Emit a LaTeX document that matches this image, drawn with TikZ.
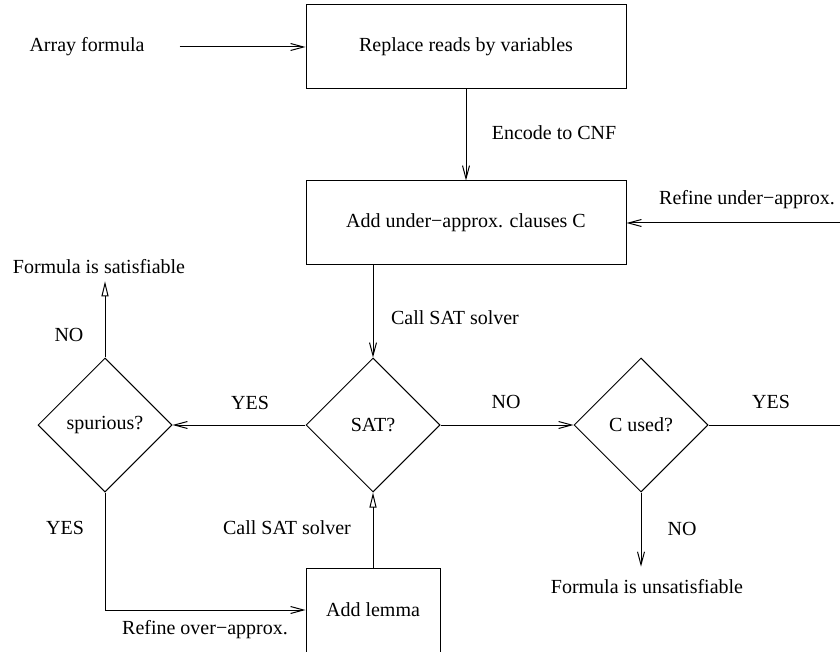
\documentclass[tikz,border=0pt]{standalone}
\usepackage{fontspec}
\setmainfont{Liberation Serif}
\usetikzlibrary{arrows.meta,shapes.geometric}

\begin{document}
\begin{tikzpicture}[x=0.5pt,y=-0.5pt,node distance=134pt,line width=0.5pt,
    font=\fontsize{10}{12}\selectfont,
    barb/.style={-{Straight Barb[length=6.5pt,width=3.5pt]}},
    tri/.style={-{Triangle[open,length=7.5pt,width=3.5pt]}},
    block/.style={draw,rectangle,minimum width=160pt,minimum height=42pt},
    test/.style={draw,diamond,minimum width=67pt,minimum height=67pt,inner sep=0pt}]
    \useasboundingbox (0,0) rectangle (840,652);

    \node (arr) at (87,47) {Array formula};
    \node[block] (rep) at (466,47) {Replace reads by variables};
    \node[block] (under) at (466,223) {Add under−approx. clauses C};
    \node[test] (sat) at (373,425) {SAT?};
    \node[test] (spur) [left of=sat] {spurious?};
    \node[test] (cused) [right of=sat] {C used?};
    \node[block,minimum width=67pt] (lemma) at (373,610) {Add lemma};
    \node (fsat) at (99,267) {Formula is satisfiable};
    \node (funsat) at (647,587) {Formula is unsatisfiable};
    \coordinate (rin) at (840,223);
    \coordinate (yout) at (840,425);

    \node (enc) at (554,133) {Encode to CNF};
    \node (refu) at (747,200) {Refine under−approx.};
    \node (call1) at (455,318) {Call SAT solver};
    \node (yes1) at (250,403) {YES};
    \node (no1) at (506,402) {NO};
    \node (yes2) at (771,402) {YES};
    \node (no2) at (69,335) {NO};
    \node (yes3) at (65,528) {YES};
    \node (call2) at (287,528) {Call SAT solver};
    \node (no3) at (682,529) {NO};
    \node (refo) at (205,630) {Refine over−approx.};

    \draw[barb,shorten <=14pt] (arr) -- (rep);
    \draw[barb] (rep) -- (under);
    \draw[barb] (rin) -- (under);
    \draw[barb] (sat.north |- under.south) -- (sat);
    \draw[barb] (sat) -- (spur);
    \draw[barb] (sat) -- (cused);
    \draw (cused) -- (yout);
    \draw[barb,shorten >=3pt] (cused) -- (cused |- funsat.north);
    \draw[tri] (spur) -- (spur |- fsat.south);
    \draw[barb] (spur) |- (lemma);
    \draw[tri] (lemma) -- (sat);
\end{tikzpicture}
\end{document}
